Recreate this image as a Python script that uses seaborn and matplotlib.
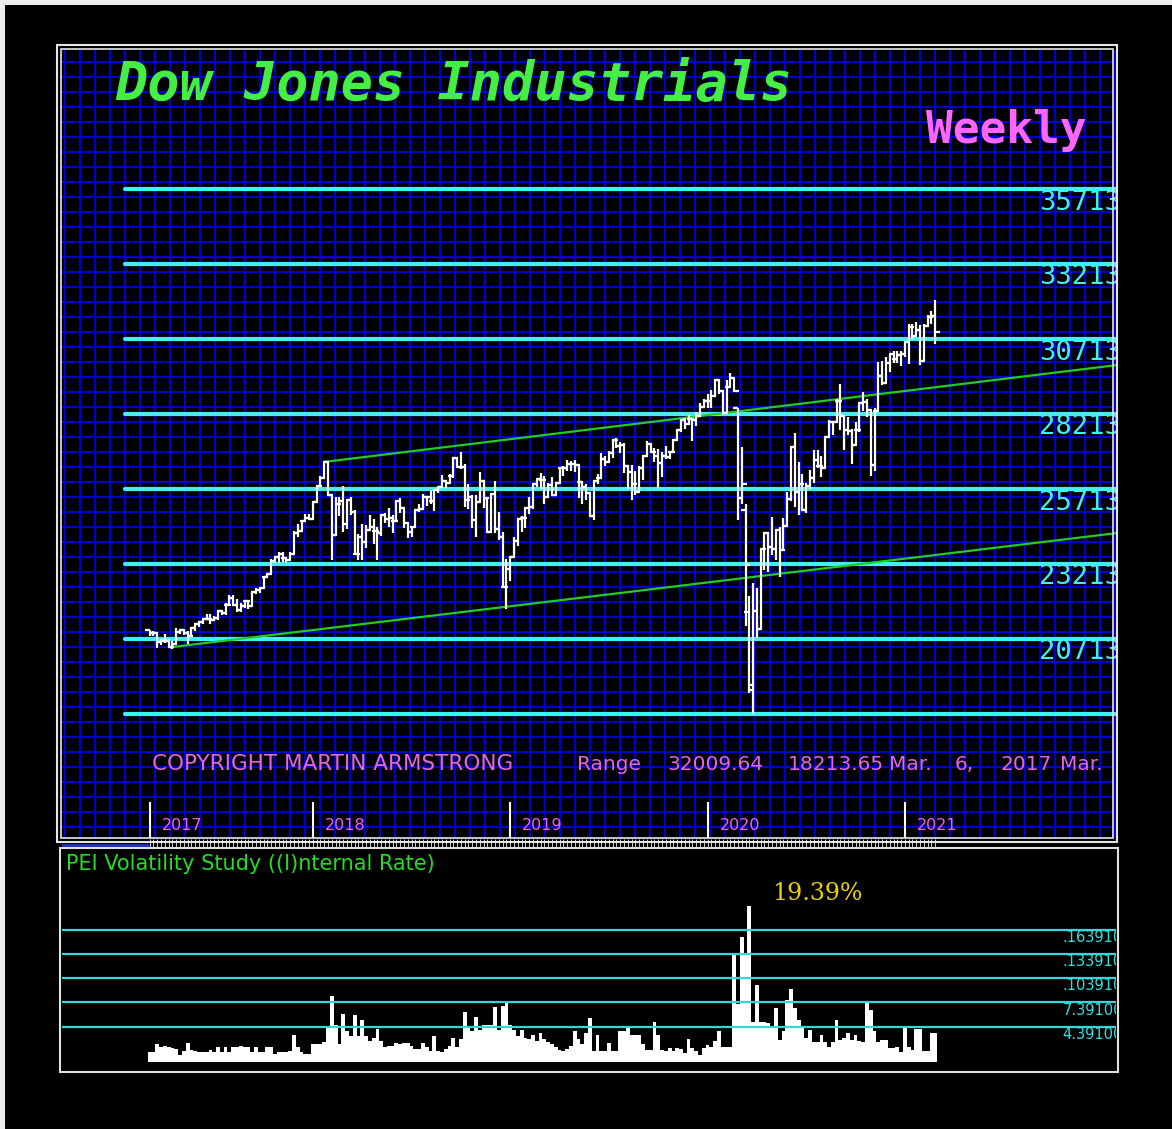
import numpy as np
import pandas as pd
import seaborn as sns
import matplotlib.pyplot as plt
from matplotlib.patches import Rectangle

# weekly Dow bars, first week starts Mon Mar 6 2017
start = "2017-03-06"

opens = [
    21006, 20903, 20915, 20597, 20663, 20656, 20453, 20548, 20941, 21007,
    20897, 20805, 21080, 21206, 21272, 21384, 21395, 21350, 21414, 21638,
    21580, 21830, 22093, 21858, 21675, 21814, 21988, 21798, 22268, 22350,
    22405, 22774, 22871, 23329, 23434, 23539, 23422, 23358, 23558, 24231,
    24329, 24652, 24754,
    24719, 25295, 25803, 26071, 26616, 25520, 24190, 25219, 25309, 24538,
    25335, 24946, 23533, 24103, 23933, 24360, 24463, 24311, 24263, 24831,
    24715, 24753, 24635, 25317, 25090, 24580, 24271, 24456, 25019, 25058,
    25451, 25463, 25313, 25669, 25790, 25965, 25917, 26154, 26744, 26458,
    26447, 25340, 25444, 24688, 25270, 25989, 25413, 24286, 25538, 24389,
    24100, 22445, 23062,
    23433, 23996, 24706, 24737, 25064, 25106, 25883, 26031, 26026, 25450,
    25849, 25502, 25929, 26425, 26412, 26559, 26543, 26505, 25942, 25764,
    25586, 24815, 25984, 26090, 26719, 26600, 26922, 27332, 27154, 27192,
    26485, 26287, 25886, 25629, 26403, 26797, 27220, 26935, 26820, 26573,
    26817, 26770, 26958, 27347, 27681, 28005, 27876, 28051, 28015, 28135,
    28455, 28645,
    28635, 28824, 29348, 28990, 28256, 29103, 29398, 28402, 25409, 25000,
    21600, 19028, 21637, 21053, 23719, 24242, 23775, 23724, 24331, 23685,
    24465, 25383, 27111, 25606, 25871, 25016, 25827, 26075, 26672, 26470,
    26428, 27433, 27931, 27930, 28654, 28133, 27666, 27657, 27174, 27682,
    28587, 28606, 28335, 26502, 28323, 29479, 29263, 29910, 30218, 30046,
    30179, 30199, 30606, 31098, 30814, 30997, 29983, 31148, 31458, 31494,
]
highs = [
    21010, 20970, 20960, 20725, 20887, 20715, 20647, 21070, 21034, 21022,
    20990, 21112, 21225, 21305, 21392, 21535, 21541, 21480, 21681, 21681,
    21929, 22180, 22179, 22036, 21900, 22000, 22000, 22275, 22419, 22416,
    22777, 22905, 23368, 23485, 23602, 23602, 23460, 23617, 24327, 24534,
    24669, 24876, 24872,
    25300, 25804, 26153, 26617, 26620, 25520, 25432, 25442, 25800, 25367,
    25449, 25010, 24210, 24540, 24509, 24858, 24700, 24445, 24870, 24901,
    25086, 24833, 25327, 25402, 25090, 24580, 24469, 25019, 25216, 25530,
    25495, 25692, 25707, 25800, 26167, 26000, 26200, 26770, 26770, 26951,
    26540, 25890, 25500, 25508, 26277, 26000, 25413, 25539, 25980, 24950,
    24295, 23381, 23467,
    24129, 24750, 24798, 25123, 25439, 25898, 26052, 26241, 26156, 25906,
    26109, 25949, 26425, 26486, 26695, 26656, 26695, 26505, 25990, 25870,
    25600, 26000, 26200, 26900, 26800, 26966, 27346, 27398, 27272, 27258,
    26500, 26520, 26300, 26480, 26830, 27306, 27230, 27079, 27046, 26940,
    27150, 26970, 27347, 27700, 28036, 28090, 28175, 28068, 28290, 28582,
    28701, 28872,
    29009, 29373, 29373, 29000, 29363, 29568, 29407, 28403, 27102, 25200,
    22150, 22595, 22400, 23750, 24264, 24242, 24765, 24380, 24430, 24751,
    25600, 27111, 27580, 26600, 26200, 25900, 26336, 27000, 27000, 26800,
    27440, 28000, 27950, 28700, 29199, 28150, 28100, 27700, 27950, 28600,
    28958, 28700, 28350, 28400, 29933, 29964, 30116, 30218, 30300, 30326,
    30300, 30637, 31200, 31200, 31272, 31188, 31200, 31500, 31640, 32009.64,
]
lows = [
    20800, 20800, 20412, 20517, 20571, 20404, 20379, 20548, 20873, 20834,
    20553, 20805, 20990, 21110, 21200, 21330, 21197, 21300, 21339, 21500,
    21500, 21830, 21843, 21600, 21600, 21744, 21709, 21798, 22200, 22240,
    22405, 22735, 22871, 23241, 23250, 23271, 23242, 23358, 23532, 24115,
    24320, 24652, 24700,
    24700, 25256, 25764, 26036, 25490, 23360, 24160, 24802, 24270, 24373,
    24848, 23509, 23345, 23344, 23742, 24360, 23887, 23344, 24158, 24580,
    24456, 24252, 24635, 24900, 24417, 24084, 24112, 24456, 24950, 25000,
    25150, 25200, 24965, 25580, 25790, 25733, 25880, 26090, 26400, 26381,
    25125, 25040, 24425, 24122, 25270, 25086, 24268, 24286, 24242, 24000,
    22397, 21713, 22638,
    23433, 23822, 24288, 24407, 24884, 25040, 25790, 25727, 25208, 25400,
    25500, 25470, 25929, 26143, 26300, 26300, 26290, 25410, 25222, 25330,
    24790, 24680, 25880, 26090, 26480, 26600, 26750, 27090, 26900, 26249,
    25700, 25339, 25500, 25600, 26000, 26797, 26900, 26600, 25743, 26100,
    26700, 26700, 26900, 27300, 27600, 27700, 27876, 27325, 27800, 28135,
    28450, 28420,
    28418, 28800, 28890, 28170, 28256, 29100, 28960, 24681, 25227, 21154,
    18917, 18213.65, 20735, 21053, 23000, 22941, 23500, 23361, 22790, 23685,
    24465, 25300, 25100, 24843, 24980, 24900, 25700, 25900, 26420, 26100,
    26400, 27430, 27500, 27900, 27664, 27000, 27500, 26537, 27174, 27600,
    28300, 28100, 26144, 26300, 28300, 29170, 29263, 29600, 29900, 29900,
    29800, 30100, 29880, 30700, 30800, 29856, 29983, 31100, 31200, 30550,
]
closes = [
    20903, 20915, 20597, 20663, 20656, 20453, 20548, 20941, 21007, 20897,
    20805, 21080, 21206, 21272, 21384, 21395, 21350, 21414, 21638, 21580,
    21830, 22093, 21858, 21675, 21814, 21988, 21798, 22268, 22350, 22405,
    22774, 22871, 23329, 23434, 23539, 23422, 23358, 23558, 24231, 24329,
    24652, 24754, 24719,
    25295, 25803, 26071, 26616, 25520, 24190, 25219, 25309, 24538, 25335,
    24946, 23533, 24103, 23933, 24360, 24463, 24311, 24263, 24831, 24715,
    24753, 24635, 25317, 25090, 24580, 24271, 24456, 25019, 25058, 25451,
    25463, 25313, 25669, 25790, 25965, 25917, 26154, 26744, 26458, 26447,
    25340, 25444, 24688, 25270, 25989, 25413, 24286, 25538, 24389, 24100,
    22445, 23062, 23433,
    23996, 24706, 24737, 25064, 25106, 25883, 26031, 26026, 25450, 25849,
    25502, 25929, 26425, 26412, 26559, 26543, 26505, 25942, 25764, 25586,
    24815, 25984, 26090, 26719, 26600, 26922, 27332, 27154, 27192, 26485,
    26287, 25886, 25629, 26403, 26797, 27220, 26935, 26820, 26573, 26817,
    26770, 26958, 27347, 27681, 28005, 27876, 28051, 28015, 28135, 28455,
    28645, 28635,
    28824, 29348, 28990, 28256, 29103, 29398, 28992, 25409, 25865, 23186,
    19174, 21637, 21053, 23719, 24242, 23775, 23724, 24331, 23685, 24465,
    25383, 27111, 25606, 25871, 25016, 25827, 26075, 26672, 26470, 26428,
    27433, 27931, 27930, 28654, 28133, 27666, 27657, 27174, 27682, 28587,
    28606, 28335, 26502, 28323, 29479, 29263, 29910, 30218, 30046, 30179,
    30199, 30606, 31098, 30814, 30997, 29983, 31148, 31458, 31494, 30932,
]

# PEI volatility (percent), one per week
vol = [
    1.2, 1.2, 2.2, 1.8, 2.0, 1.8, 1.7, 1.6, 0.9, 1.4,
    2.4, 1.5, 1.4, 1.2, 1.2, 1.2, 1.5, 1.2, 1.9, 1.2,
    1.8, 1.3, 1.8, 1.9, 2.0, 1.8, 1.8, 1.2, 1.8, 1.2,
    1.2, 1.8, 1.9, 1.0, 1.2, 1.3, 1.2, 1.4, 3.4, 1.8,
    1.2, 1.0, 1.0, 2.2, 2.2, 2.2, 2.5, 4.4, 8.2, 4.6,
    2.2, 6.0, 3.9, 3.2, 5.8, 3.2, 5.2, 3.2, 2.6, 3.0,
    4.1, 2.6, 1.8, 2.0, 2.0, 2.4, 2.2, 2.4, 2.3, 2.0,
    1.6, 1.6, 2.4, 1.8, 1.4, 3.2, 1.4, 1.2, 1.6, 2.0,
    3.0, 1.8, 2.8, 6.2, 4.4, 3.8, 5.6, 4.0, 4.6, 4.6,
    4.6, 6.8, 4.0, 7.0, 7.4, 4.6, 4.0, 3.2, 4.0, 3.0,
    2.8, 3.4, 2.6, 3.6, 2.9, 2.5, 2.2, 1.9, 1.5, 1.4,
    1.6, 2.0, 3.8, 2.9, 2.2, 3.6, 5.4, 1.4, 3.4, 1.4,
    1.4, 2.4, 1.4, 1.4, 3.8, 3.8, 4.2, 3.4, 3.4, 3.4,
    2.2, 1.5, 1.5, 5.0, 3.4, 1.5, 1.4, 1.7, 1.4, 1.7,
    1.6, 1.1, 2.9, 1.7, 1.4, 0.9, 1.7, 2.1, 1.9, 2.6,
    3.8, 1.9, 1.8, 1.8, 13.2, 7.2, 15.5, 13.3, 19.39, 5.0,
    9.6, 5.0, 5.0, 4.8, 4.2, 6.7, 2.7, 3.8, 7.7, 9.1,
    6.7, 5.2, 4.3, 3.0, 4.0, 2.5, 2.5, 3.4, 2.5, 1.8,
    2.5, 5.2, 2.7, 3.0, 3.6, 2.7, 3.4, 2.6, 2.5, 7.4,
    6.4, 3.8, 2.5, 2.7, 2.7, 1.7, 1.7, 1.9, 1.3, 4.3,
    1.9, 1.5, 4.1, 4.1, 1.4, 1.4, 3.6, 3.6,
]

level_prices = [18213, 20713, 23213, 25713, 28213, 30713, 33213, 35713]
level_labels = ["", "20713", "23213", "25713", "28213", "30713", "33213", "35713"]
vol_levels = [16.39, 13.39, 10.39, 7.39, 4.39]
vol_labels = [".163910", ".133910", ".103910", "7.39100", "4.39100"]
# trend channel anchors (week index, price)
trend_weeks = [[46, 255], [6, 255]]
trend_prices = [[26616, 29846], [20446, 24246]]
year_names = ["2017", "2018", "2019", "2020", "2021"]
info_text = [("COPYRIGHT MARTIN ARMSTRONG", 152, 15.5), ("Range", 577, 14.5),
             ("32009.64", 667, 14.5), ("18213.65", 788, 14.5), ("Mar.", 889, 14.5),
             ("6,", 955, 14.5), ("2017", 1000, 14.5), ("Mar.", 1060, 14.5)]

sns.set_theme(style="dark", rc={"figure.facecolor": "black", "axes.facecolor": "black"})
plt.rcParams["font.family"] = ["DejaVu Sans"]

W, H = 1172, 1129
fig = plt.figure(figsize=(W / 100, H / 100), dpi=100)


def box(l, t, r, b):
    return fig.add_axes([l / W, 1 - b / H, (r - l) / W, (b - t) / H])


n = len(closes)
wk = np.arange(n)
dates = pd.date_range(start, periods=n, freq="7D")
ends = dates + pd.Timedelta(days=6)
year_pos = [0] + [int(np.argmax(np.asarray(ends.year) == y)) for y in (2018, 2019, 2020, 2021)]

# pixel mapping used by the original chart
X0, XS = 149.7, 3.795
xlim = ((62 - X0) / XS, (1116 - X0) / XS)
ylim = (18213 - (838 - 714) / 0.03, 18213 + (714 - 50) / 0.03)

# blue grid background
bg = box(62, 50, 1116, 838)
bg.set_facecolor("black")
bg.set_xlim(62, 1116)
bg.set_ylim(838, 50)
bg.set_xticks(np.arange(65, 1116, 15))
bg.set_yticks(np.arange(62, 838, 15))
bg.grid(True, color="#0000cc", lw=1.5)
bg.tick_params(length=0, labelbottom=False, labelleft=False)
for s in bg.spines.values():
    s.set_visible(False)

ax = box(62, 50, 1116, 838)
ax.set_xlim(*xlim)
ax.set_ylim(*ylim)
ax.axis("off")

for p, lab in zip(level_prices, level_labels):
    ax.axhline(p, xmin=(125 - 62) / 1054, xmax=1, color="#40f0f0", lw=3, zorder=2)
    if lab:
        ax.text(1.0047, p - 20.5 / 0.03, lab, transform=ax.get_yaxis_transform(),
                ha="right", va="baseline", color="#40f0f0", fontsize=19.5,
                family="DejaVu Sans Mono", clip_on=True)

for tw, tp in zip(trend_weeks, trend_prices):
    sns.lineplot(x=tw, y=tp, color="#22cc22", lw=1.6, ax=ax, zorder=3)

ax.vlines(wk, lows, highs, color="white", lw=1.6, zorder=4)
ax.hlines(opens, wk - 1.3, wk, color="white", lw=1.6, zorder=4)
ax.hlines(closes, wk, wk + 1.3, color="white", lw=1.6, zorder=4)

ax.vlines(year_pos, 0, 36 / 788, transform=ax.get_xaxis_transform(), color="white", lw=1.5)
for yp, yn in zip(year_pos, year_names):
    ax.text(yp + 3.2, 8 / 788, yn, transform=ax.get_xaxis_transform(), ha="left",
            va="baseline", color="#f060f0", fontsize=11.5)

# weekly tick strip between the panels
sp = box(62, 838, 1116, 848)
sp.set_xlim(*xlim)
sp.set_ylim(0, 1)
sp.axis("off")
sp.vlines(wk, 0.1, 0.9, color="#d0d0d0", lw=0.7)
sp.axhline(0.3, xmax=(148 - 62) / 1054, color="#2233cc", lw=2)

# volatility panel, one contiguous bar per week
av = box(62, 850, 1116, 1071)
av.set_facecolor("black")
sns.histplot(x=wk, weights=vol, discrete=True, shrink=1, element="bars", fill=True,
             color="white", alpha=1, linewidth=0, ax=av, zorder=2)
for lv, lab in zip(vol_levels, vol_labels):
    av.axhline(lv, color="#30d8d8", lw=1.6, zorder=3)
    av.text(1.0066, lv - 12.3 / 8.07, lab, transform=av.get_yaxis_transform(),
            ha="right", va="baseline", color="#30e0e0", fontsize=10.5, clip_on=True)
av.set_xlim(*xlim)
av.set_ylim(-9 / 8.07, 212 / 8.07)
av.axis("off")

# overlay in pixel units for frames and captions
ov = fig.add_axes([0, 0, 1, 1])
ov.set_xlim(0, W)
ov.set_ylim(H, 0)
ov.axis("off")
ov.set_zorder(10)
ov.add_patch(Rectangle((0, 0), W, 5, color="#eeeeee", lw=0))
ov.add_patch(Rectangle((0, 0), 5, H, color="#eeeeee", lw=0))
ov.add_patch(Rectangle((57, 45), 1060, 797, fill=False, ec="#e6e6e6", lw=1.5))
ov.add_patch(Rectangle((61, 49), 1052, 789, fill=False, ec="#e6e6e6", lw=1.2))
ov.add_patch(Rectangle((60, 848), 1058, 224, fill=False, ec="#e0e0e0", lw=1.5))

ov.text(115, 100, "Dow Jones Industrials", color="#44ee44", fontsize=38.5,
        family="DejaVu Sans Mono", weight="bold", style="italic", va="baseline")
ov.text(926, 143, "Weekly", color="#ff66ff", fontsize=32,
        family="DejaVu Sans Mono", weight="bold", va="baseline")
for s, x, fs in info_text:
    ov.text(x, 770, s, color="#e466e4", fontsize=fs, va="baseline")
ov.text(66, 870, "PEI Volatility Study ((I)nternal Rate)", color="#22dd22",
        fontsize=15, va="baseline")
ov.text(772, 900, "19.39%", color="#e6d200", fontsize=17, family="DejaVu Serif",
        va="baseline")

fig.savefig("out.png", dpi=100, facecolor="black")
